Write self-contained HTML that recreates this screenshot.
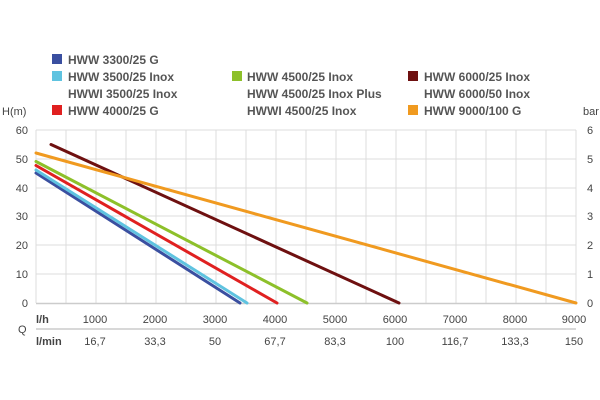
<!DOCTYPE html>
<html><head><meta charset="utf-8"><style>
body{margin:0;background:#fff}
svg{display:block}
text{font-family:"Liberation Sans",sans-serif;font-size:11px;fill:#444}
.lg{font-weight:bold;fill:#555;font-size:12px}
</style></head><body>
<svg width="600" height="400" viewBox="0 0 600 400">
<g stroke="#dcdcdc" stroke-width="1">
<line x1="36" y1="130" x2="576" y2="130"/><line x1="36" y1="159" x2="576" y2="159"/><line x1="36" y1="188" x2="576" y2="188"/><line x1="36" y1="216" x2="576" y2="216"/><line x1="36" y1="245" x2="576" y2="245"/><line x1="36" y1="274" x2="576" y2="274"/>
<line x1="36" y1="130" x2="36" y2="303"/><line x1="66" y1="130" x2="66" y2="303"/><line x1="96" y1="130" x2="96" y2="303"/><line x1="126" y1="130" x2="126" y2="303"/><line x1="156" y1="130" x2="156" y2="303"/><line x1="186" y1="130" x2="186" y2="303"/><line x1="216" y1="130" x2="216" y2="303"/><line x1="246" y1="130" x2="246" y2="303"/><line x1="276" y1="130" x2="276" y2="303"/><line x1="306" y1="130" x2="306" y2="303"/><line x1="336" y1="130" x2="336" y2="303"/><line x1="366" y1="130" x2="366" y2="303"/><line x1="396" y1="130" x2="396" y2="303"/><line x1="426" y1="130" x2="426" y2="303"/><line x1="456" y1="130" x2="456" y2="303"/><line x1="486" y1="130" x2="486" y2="303"/><line x1="516" y1="130" x2="516" y2="303"/><line x1="546" y1="130" x2="546" y2="303"/><line x1="576" y1="130" x2="576" y2="303"/>
</g>
<line x1="36" y1="303.5" x2="576" y2="303.5" stroke="#ccc" stroke-width="1.5"/>
<line x1="36" y1="329" x2="576" y2="329" stroke="#ccc" stroke-width="1.5"/>
<g stroke-width="3" fill="none" stroke-linecap="round">
<line x1="36" y1="173" x2="240" y2="303" stroke="#3a4fa0"/>
<line x1="36" y1="170" x2="247" y2="303" stroke="#5fc3e0"/>
<line x1="36" y1="165.5" x2="277" y2="303" stroke="#e02020"/>
<line x1="36" y1="161.5" x2="307" y2="303" stroke="#8dc02a"/>
<line x1="51" y1="144.5" x2="399" y2="303" stroke="#6e1010"/>
<line x1="36" y1="153" x2="576" y2="303" stroke="#f09a20"/>
</g>
<g text-anchor="end">
<text x="28" y="134">60</text><text x="28" y="163">50</text><text x="28" y="192">40</text><text x="28" y="220">30</text><text x="28" y="249">20</text><text x="28" y="278">10</text><text x="28" y="307">0</text>
</g>
<text x="587" y="134">6</text><text x="587" y="163">5</text><text x="587" y="192">4</text><text x="587" y="220">3</text><text x="587" y="249">2</text><text x="587" y="278">1</text><text x="587" y="307">0</text>
<text x="2" y="115">H(m)</text><text x="583" y="115">bar</text>
<text x="18" y="333" font-size="12">Q</text>
<text x="36" y="323" font-weight="bold">l/h</text><text x="36" y="345" font-weight="bold">l/min</text>
<g text-anchor="middle">
<text x="95" y="323">1000</text><text x="155" y="323">2000</text><text x="215" y="323">3000</text><text x="275" y="323">4000</text><text x="335" y="323">5000</text><text x="395" y="323">6000</text><text x="455" y="323">7000</text><text x="515" y="323">8000</text><text x="574" y="323">9000</text>
<text x="95" y="345">16,7</text><text x="155" y="345">33,3</text><text x="215" y="345">50</text><text x="275" y="345">67,7</text><text x="335" y="345">83,3</text><text x="395" y="345">100</text><text x="455" y="345">116,7</text><text x="515" y="345">133,3</text><text x="574" y="345">150</text>
</g>
<rect x="52" y="54" width="10" height="10" fill="#3a4fa0"/>
<rect x="52" y="71" width="10" height="10" fill="#5fc3e0"/>
<rect x="52" y="105" width="10" height="10" fill="#e02020"/>
<rect x="232" y="71" width="10" height="10" fill="#8dc02a"/>
<rect x="408" y="71" width="10" height="10" fill="#6e1010"/>
<rect x="408" y="105" width="10" height="10" fill="#f09a20"/>
<text class="lg" x="68" y="64">HWW 3300/25 G</text>
<text class="lg" x="68" y="81">HWW 3500/25 Inox</text>
<text class="lg" x="68" y="98">HWWI 3500/25 Inox</text>
<text class="lg" x="68" y="115">HWW 4000/25 G</text>
<text class="lg" x="247" y="81">HWW 4500/25 Inox</text>
<text class="lg" x="247" y="98">HWW 4500/25 Inox Plus</text>
<text class="lg" x="247" y="115">HWWI 4500/25 Inox</text>
<text class="lg" x="424" y="81">HWW 6000/25 Inox</text>
<text class="lg" x="424" y="98">HWW 6000/50 Inox</text>
<text class="lg" x="424" y="115">HWW 9000/100 G</text>
</svg>
</body></html>
